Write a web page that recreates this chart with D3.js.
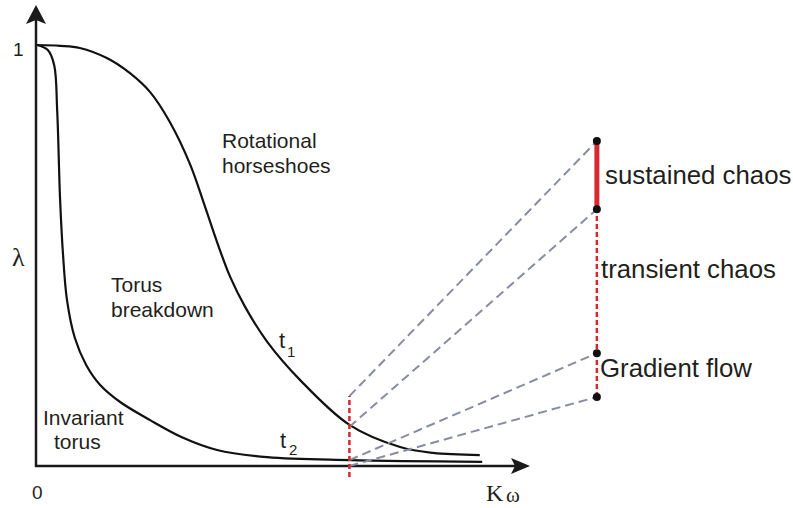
<!DOCTYPE html>
<html>
<head>
<meta charset="utf-8">
<script src="https://cdn.jsdelivr.net/npm/d3@7.9.0/dist/d3.min.js"></script>
<style>
  body { margin: 0; background: #fff; }
  svg { display: block; font-family: "Liberation Sans", Arial, sans-serif; }
</style>
</head>
<body>
<svg id="chart" width="793" height="508"></svg>
<script>
// boundary curves (K, lambda)
const t1K = [0.002, 0.049, 0.089, 0.144, 0.191, 0.232, 0.272, 0.313, 0.343, 0.368, 0.394, 0.425, 0.470, 0.537, 0.638, 0.740, 0.807, 0.902];
const t1L = [1.000, 0.998, 0.993, 0.969, 0.933, 0.888, 0.817, 0.717, 0.618, 0.532, 0.451, 0.378, 0.295, 0.204, 0.097, 0.045, 0.031, 0.026];

const t2K = [0.002, 0.024, 0.037, 0.043, 0.049, 0.055, 0.063, 0.079, 0.102, 0.130, 0.171, 0.232, 0.299, 0.368, 0.470, 0.638, 0.907];
const t2L = [1.000, 0.988, 0.952, 0.846, 0.632, 0.501, 0.394, 0.304, 0.240, 0.193, 0.152, 0.109, 0.067, 0.038, 0.021, 0.014, 0.010];

// the cut at fixed K and the blown-up lambda bar on the right
const cutK = 0.637;
const cutRange = [-0.026, 0.166];
const barK = 1.140;
const cutEnds = [0.166, 0.093, 0.014, 0.0];     // top of cut, t1, t2, axis
const barEnds = [0.772, 0.610, 0.268, 0.164];   // matching points on the bar
const barLabels = ["sustained chaos", "transient chaos", "Gradient flow"];

let svg = d3.select('#chart');

let x = d3.scaleLinear().domain([0, 1]).range([36, 528]);
let y = d3.scaleLinear().domain([0, 1]).range([466, 45]);

// axes with arrow heads
svg.append('line')
    .attr('x1', x(0)).attr('y1', y(0) + 1)
    .attr('x2', x(0)).attr('y2', 20)
    .attr('stroke', '#1a1a1a').attr('stroke-width', 2.5);
svg.append('path')
    .attr('d', `M${x(0)},5 L${x(0) - 10},24 L${x(0)},20 L${x(0) + 10},24 Z`)
    .attr('fill', '#1a1a1a');

svg.append('line')
    .attr('x1', x(0) - 1).attr('y1', y(0))
    .attr('x2', 516).attr('y2', y(0))
    .attr('stroke', '#1a1a1a').attr('stroke-width', 2.5);
svg.append('path')
    .attr('d', `M530,${y(0)} L511,${y(0) - 8} L515,${y(0)} L511,${y(0) + 8} Z`)
    .attr('fill', '#1a1a1a');

// curves
let line = d3.line()
    .x((d) => x(d[0]))
    .y((d) => y(d[1]))
    .curve(d3.curveCatmullRom.alpha(0.5));

[[t1K, t1L], [t2K, t2L]].forEach(([ks, ls]) => {
    svg.append('path')
        .attr('d', line(d3.zip(ks, ls)))
        .attr('fill', 'none')
        .attr('stroke', '#111')
        .attr('stroke-width', 2.2);
});

// gray dashed projection lines
cutEnds.forEach((v, i) => {
    svg.append('line')
        .attr('x1', x(cutK)).attr('y1', y(v))
        .attr('x2', x(barK)).attr('y2', y(barEnds[i]))
        .attr('stroke', '#878da0')
        .attr('stroke-width', 2)
        .attr('stroke-dasharray', '9,5');
});

// red dotted cut
svg.append('line')
    .attr('x1', x(cutK)).attr('y1', y(cutRange[0]))
    .attr('x2', x(cutK)).attr('y2', y(cutRange[1]))
    .attr('stroke', '#d8262f')
    .attr('stroke-width', 2.5)
    .attr('stroke-dasharray', '5,3');

// red bar on the right: dotted part then the solid chaos part
svg.append('line')
    .attr('x1', x(barK)).attr('y1', y(barEnds[3]))
    .attr('x2', x(barK)).attr('y2', y(barEnds[1]))
    .attr('stroke', '#d8262f')
    .attr('stroke-width', 2.5)
    .attr('stroke-dasharray', '5,3');
svg.append('line')
    .attr('x1', x(barK)).attr('y1', y(barEnds[0]))
    .attr('x2', x(barK)).attr('y2', y(barEnds[1]))
    .attr('stroke', '#d42a30')
    .attr('stroke-width', 5);

barEnds.forEach((v) => {
    svg.append('circle')
        .attr('cx', x(barK)).attr('cy', y(v))
        .attr('r', 4)
        .attr('fill', '#111');
});

// labels
let text = (tx, ty, str, size, family) => {
    return svg.append('text')
        .attr('x', tx).attr('y', ty)
        .attr('font-size', size)
        .attr('font-family', family || null)
        .attr('fill', '#231f20')
        .text(str);
};

text(13, 56, '1', 19);
text(32, 499, '0', 19);
text(12, 266, 'λ', 26, 'Liberation Serif');
text(486, 501, 'K', 24, 'Liberation Serif');
text(506, 502, 'ω', 21, 'Liberation Serif');

text(222, 148, 'Rotational', 21);
text(222, 173, 'horseshoes', 21);
text(111, 292, 'Torus', 21);
text(111, 317, 'breakdown', 21);
text(43, 425, 'Invariant', 21);
text(54, 449, 'torus', 21);

text(279, 348, 't', 22);
text(287, 357, '1', 15);
text(280, 448, 't', 22);
text(289, 455, '2', 15);

text(605, 184, barLabels[0], 25.8);
text(601, 278, barLabels[1], 25.8);
text(600, 377, barLabels[2], 25.8);
</script>
</body>
</html>
